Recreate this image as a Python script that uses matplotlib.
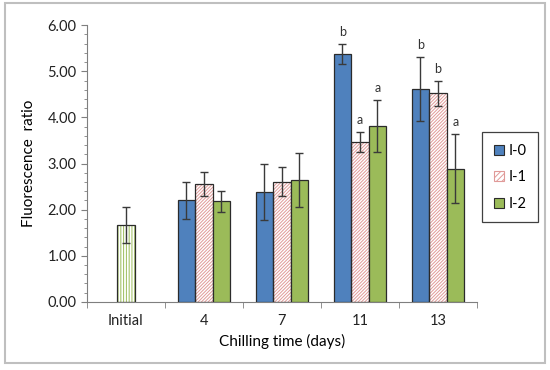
import numpy as np
import matplotlib
matplotlib.use('Agg')
import matplotlib.pyplot as plt
from matplotlib.patches import Patch, Rectangle
from matplotlib.ticker import MultipleLocator, FormatStrFormatter

plt.rcParams['font.family'] = ['Lato', 'DejaVu Sans']
plt.rcParams['hatch.linewidth'] = 0.7

days = ['Initial', '4', '7', '11', '13']
series = ['I-0', 'I-1', 'I-2']

initial_val = 1.66
initial_err = 0.39

i0 = [2.20, 2.38, 5.38, 4.62]
i1 = [2.55, 2.61, 3.47, 4.52]
i2 = [2.18, 2.64, 3.81, 2.89]
i0_err = [0.41, 0.60, 0.22, 0.69]
i1_err = [0.26, 0.31, 0.22, 0.27]
i2_err = [0.22, 0.58, 0.57, 0.75]

letters = {3: ['b', 'a', 'a'], 4: ['b', 'b', 'a']}

blue = '#4F81BD'
red = '#E09A98'
green = '#9BBB59'
edge = '#2B2B2B'
errc = '#3A3A3A'

fig = plt.figure(figsize=(5.5, 3.7), dpi=100)
ax = fig.add_axes([0.158, 0.184, 0.709, 0.748])

w = 0.225
x = np.arange(1, 5)
vals = [i0, i1, i2]
errs = [i0_err, i1_err, i2_err]
offs = [-w, 0, w]

# initial bar, vertical green stripes
ax.bar(0, initial_val, w * 1.05, color='white', edgecolor=green, hatch='||||||', lw=0, zorder=2)
ax.bar(0, initial_val, w * 1.05, color='none', edgecolor=edge, lw=0.9, zorder=3)
ax.errorbar(0, initial_val, yerr=initial_err, fmt='none', ecolor=errc, elinewidth=1, capsize=3, zorder=4)

for k in range(3):
    xs = x + offs[k]
    if k == 1:
        ax.bar(xs, vals[k], w, color='white', edgecolor=red, hatch='//////////', lw=0, zorder=2)
        ax.bar(xs, vals[k], w, color='none', edgecolor=edge, lw=0.9, zorder=3)
    else:
        ax.bar(xs, vals[k], w, color=[blue, None, green][k], edgecolor=edge, lw=0.9, zorder=3)
    ax.errorbar(xs, vals[k], yerr=errs[k], fmt='none', ecolor=errc, elinewidth=1, capsize=3, zorder=4)

for i, labs in letters.items():
    for k in range(3):
        top = vals[k][i - 1] + errs[k][i - 1]
        ax.text(i + offs[k], top + 0.12, labs[k], ha='center', va='bottom', fontsize=9, color='#333333')

ax.set_xlim(-0.5, 4.5)
ax.set_ylim(0, 6)
ax.yaxis.set_major_locator(MultipleLocator(1))
ax.yaxis.set_minor_locator(MultipleLocator(0.2))
ax.yaxis.set_major_formatter(FormatStrFormatter('%.2f'))
ax.set_xticks(range(5))
ax.set_xticklabels(days)
ax.set_xticks(np.arange(-0.5, 5, 1), minor=True)
ax.tick_params(axis='x', which='major', length=0, pad=9, labelsize=10.5, colors='#222222')
ax.tick_params(axis='x', which='minor', length=4, direction='out', color='#7F7F7F')
ax.tick_params(axis='y', which='major', length=4, direction='out', color='#7F7F7F', labelsize=10.5, labelcolor='#222222')
ax.tick_params(axis='y', which='minor', length=2.5, direction='out', color='#7F7F7F')
for s in ['top', 'right']:
    ax.spines[s].set_visible(False)
for s in ['left', 'bottom']:
    ax.spines[s].set_color('#7F7F7F')

ax.set_xlabel('Chilling time (days)', fontsize=11, labelpad=4)
ax.set_ylabel('Fluorescence  ratio', fontsize=11, labelpad=8)

handles = [Patch(facecolor=blue, edgecolor=edge, lw=0.8),
           Patch(facecolor='white', edgecolor=red, hatch='//////', lw=0.8),
           Patch(facecolor=green, edgecolor=edge, lw=0.8)]
leg = fig.legend(handles, series, loc='upper left', bbox_to_anchor=(0.864, 0.662),
                 bbox_transform=fig.transFigure, fontsize=10.5, handlelength=0.65, handleheight=0.65,
                 handletextpad=0.35, labelspacing=0.85, borderpad=0.8, fancybox=False,
                 edgecolor='#404040', framealpha=1)
leg.get_frame().set_linewidth(0.9)

fig.patches.append(Rectangle((5 / 550, 1 - 363 / 370), 540 / 550, 360 / 370, transform=fig.transFigure,
                             fill=False, edgecolor='#BFBFBF', lw=1.5))

fig.savefig('out.png', dpi=100)
